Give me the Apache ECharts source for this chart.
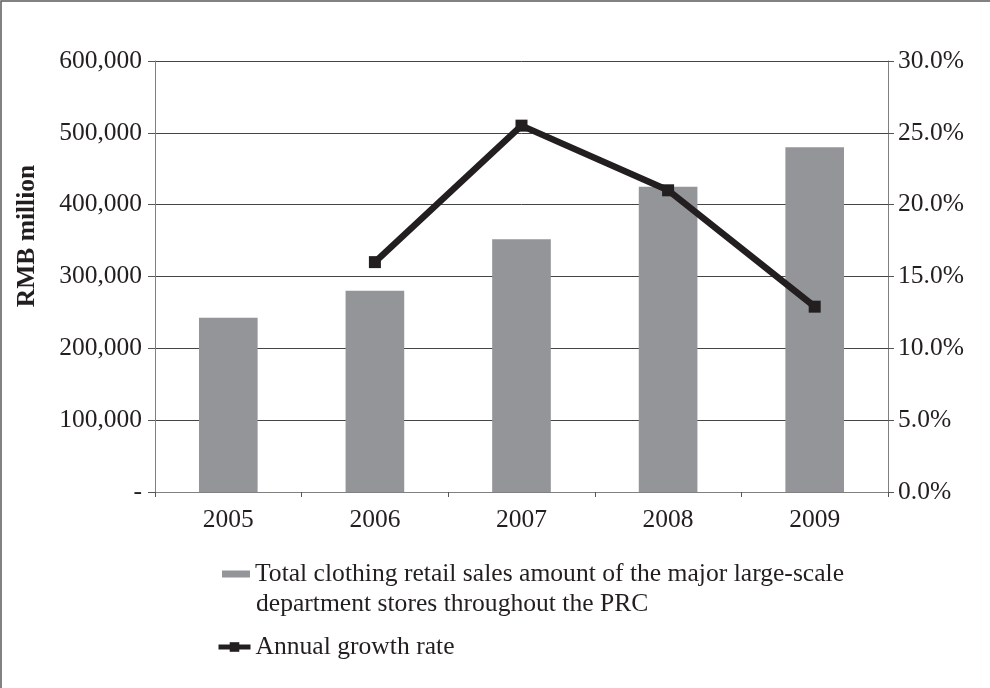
<!DOCTYPE html>
<html>
<head>
<meta charset="utf-8">
<title>Clothing retail sales, 2005–2009</title>
<script src="https://cdn.jsdelivr.net/npm/echarts@6/dist/echarts.min.js"></script>
<style>
  html, body { margin: 0; padding: 0; background: #ffffff; }
  #chart { width: 990px; height: 688px; }
</style>
</head>
<body>
<div id="chart"></div>
<script>
// Years on the category axis
const years = ['2005', '2006', '2007', '2008', '2009'];
// Total clothing retail sales (RMB million)
const salesValues = [242500, 280000, 352000, 425000, 480000];
// Annual growth rate (%), no figure for the first year
const growthValues = [null, 16.0, 25.5, 21.0, 12.9];
// Axis ranges
const salesTicks = { min: 0, max: 600000, step: 100000 };
const growthTicks = { min: 0, max: 30, step: 5 };

const salesName = 'Total clothing retail sales amount of the major large-scale department stores throughout the PRC';
const salesLegendLine1 = 'Total clothing retail sales amount of the major large-scale';
const salesLegendLine2 = 'department stores throughout the PRC';
const growthName = 'Annual growth rate';

const FONT = '"Liberation Serif", "Times New Roman", serif';
const INK = '#231f20';
const TICK_SIZE = 25.5;
const LEGEND_SIZE = 25.6;

const chart = echarts.init(document.getElementById('chart'), null, { renderer: 'canvas' });

chart.setOption({
  backgroundColor: '#ffffff',
  animation: false,
  textStyle: { fontFamily: FONT, color: INK },
  grid: { left: 155, right: 102, top: 61, bottom: 196, containLabel: false },
  xAxis: {
    type: 'category',
    data: years,
    axisLine: { lineStyle: { color: '#808080', width: 1 } },
    axisTick: { show: true, alignWithLabel: false, length: 5, inside: false, lineStyle: { color: '#555' } },
    axisLabel: { fontFamily: FONT, fontSize: TICK_SIZE, color: INK, margin: 15 },
    splitLine: { show: false }
  },
  yAxis: [
    {
      type: 'value',
      min: salesTicks.min,
      max: salesTicks.max,
      interval: salesTicks.step,
      axisLine: { show: true, lineStyle: { color: '#808080', width: 1 } },
      axisTick: { show: true, length: 7, lineStyle: { color: '#555' } },
      axisLabel: {
        fontFamily: FONT, fontSize: TICK_SIZE, color: INK, margin: 13,
        formatter: v => v === 0 ? '-' : v.toLocaleString('en-US')
      },
      splitLine: { show: true, lineStyle: { color: '#444444', width: 1 } }
    },
    {
      type: 'value',
      position: 'right',
      min: growthTicks.min,
      max: growthTicks.max,
      interval: growthTicks.step,
      axisLine: { show: true, lineStyle: { color: '#808080', width: 1 } },
      axisTick: { show: true, length: 6, lineStyle: { color: '#555' } },
      axisLabel: {
        fontFamily: FONT, fontSize: TICK_SIZE, color: INK, margin: 10,
        formatter: v => v.toFixed(1) + '%'
      },
      splitLine: { show: false }
    }
  ],
  legend: [
    {
      data: [{ name: salesName, icon: 'rect' }],
      left: 222,
      top: 559,
      padding: 0,
      itemWidth: 28,
      itemHeight: 7,
      selectedMode: false,
      formatter: () => salesLegendLine1,
      textStyle: { fontFamily: FONT, fontSize: LEGEND_SIZE, color: INK, lineHeight: 30 }
    },
    {
      data: [{ name: growthName }],
      left: 216,
      top: 632,
      padding: 0,
      itemWidth: 32,
      itemHeight: 12,
      selectedMode: false,
      lineStyle: { width: 5, color: INK },
      itemStyle: { color: INK },
      textStyle: { fontFamily: FONT, fontSize: LEGEND_SIZE, color: INK, lineHeight: 30 }
    }
  ],
  series: [
    {
      name: salesName,
      type: 'bar',
      yAxisIndex: 0,
      data: salesValues,
      barWidth: '40%',
      itemStyle: { color: '#939598' }
    },
    {
      name: growthName,
      type: 'line',
      yAxisIndex: 1,
      data: growthValues,
      connectNulls: false,
      symbol: 'rect',
      symbolSize: 12,
      itemStyle: { color: INK },
      lineStyle: { color: INK, width: 6.5 },
      z: 5
    }
  ],
  graphic: [
    {
      type: 'rect',
      silent: true,
      shape: { x: 1, y: 1, width: 1200, height: 1200 },
      style: { fill: 'none', stroke: '#5a5a5a', lineWidth: 1.5 }
    },
    {
      type: 'text',
      silent: true,
      x: 27,
      y: 236,
      rotation: Math.PI / 2,
      style: {
        text: 'RMB million',
        font: 'bold 25.5px ' + FONT,
        fill: INK,
        align: 'center',
        verticalAlign: 'middle'
      }
    },
    {
      // continuation line of the sales legend entry
      type: 'text',
      silent: true,
      x: 256,
      y: 604,
      style: {
        text: salesLegendLine2,
        font: LEGEND_SIZE + 'px ' + FONT,
        fill: INK,
        align: 'left',
        verticalAlign: 'middle'
      }
    }
  ]
});
</script>
</body>
</html>
